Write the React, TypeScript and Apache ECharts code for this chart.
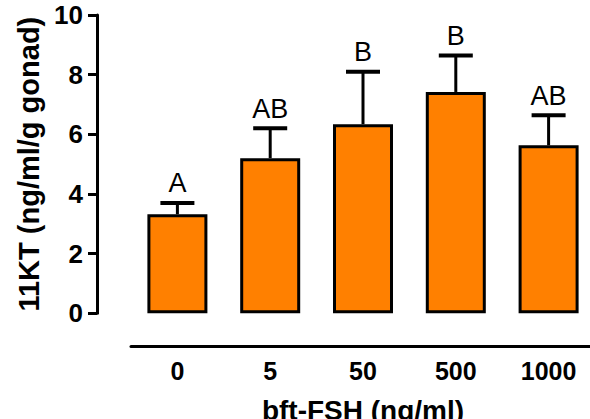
import React, { useEffect, useRef } from "react";
import * as echarts from "echarts";

const categories = ["0", "5", "50", "500", "1000"];
const means = [3.32, 5.2, 6.34, 7.42, 5.63];
const errors = [0.38, 1.0, 1.76, 1.22, 1.01];
const letters = ["A", "AB", "B", "B", "AB"];
const yTicks = { min: 0, max: 10, interval: 2 };

const FONT = "'Liberation Sans', Arial, sans-serif";

export default function App() {
  const ref = useRef<HTMLDivElement>(null);
  useEffect(() => {
    if (!ref.current) return;
    const chart = echarts.init(ref.current, undefined, { renderer: "svg" });
    const errData = categories.map((_, i) => [i, means[i], errors[i]]);
    chart.setOption({
      animation: false,
      backgroundColor: "#fff",
      grid: { left: 131, right: 5, top: 15, bottom: 105.7, outerBoundsMode: "none", containLabel: false },
      xAxis: {
        type: "category",
        data: categories,
        offset: 32.7,
        name: "bft-FSH (ng/ml)",
        nameLocation: "middle",
        nameGap: 50,
        nameTextStyle: { fontFamily: FONT, fontWeight: "bold", fontSize: 28, color: "#000" },
        axisLine: { onZero: false, lineStyle: { color: "#000", width: 3 } },
        axisTick: { alignWithLabel: true, length: 8, lineStyle: { color: "#000", width: 3 } },
        axisLabel: { fontFamily: FONT, fontWeight: "bold", fontSize: 25, color: "#000", margin: 12 },
      },
      yAxis: {
        type: "value",
        min: yTicks.min,
        max: yTicks.max,
        interval: yTicks.interval,
        offset: 34,
        name: "11KT (ng/ml/g gonad)",
        nameLocation: "middle",
        nameGap: 52,
        nameTextStyle: { fontFamily: FONT, fontWeight: "bold", fontSize: 29, color: "#000" },
        axisLine: { show: true, lineStyle: { color: "#000", width: 3 } },
        axisTick: { show: true, length: 9, lineStyle: { color: "#000", width: 3 } },
        axisLabel: { fontFamily: FONT, fontWeight: "bold", fontSize: 26, color: "#000", margin: 14 },
        splitLine: { show: false },
      },
      series: [
        {
          type: "bar",
          data: means,
          barWidth: 60,
          itemStyle: { color: "#FF8000", borderColor: "#000", borderWidth: 3 },
          z: 2,
        },
        {
          type: "custom",
          data: errData,
          z: 3,
          renderItem: (params: any, api: any) => {
            const x = api.value(0);
            const y = api.value(1);
            const e = api.value(2);
            const top = api.coord([x, y]);
            const et = api.coord([x, y + e]);
            const half = 17;
            return {
              type: "group",
              children: [
                {
                  type: "line",
                  shape: { x1: top[0], y1: top[1], x2: et[0], y2: et[1] },
                  style: { stroke: "#000", lineWidth: 3 },
                },
                {
                  type: "line",
                  shape: { x1: et[0] - half, y1: et[1], x2: et[0] + half, y2: et[1] },
                  style: { stroke: "#000", lineWidth: 4 },
                },
                {
                  type: "text",
                  x: et[0],
                  y: et[1] - 6,
                  style: {
                    text: letters[params.dataIndex],
                    fill: "#000",
                    fontSize: 27,
                    fontFamily: FONT,
                    align: "center",
                    verticalAlign: "bottom",
                  },
                },
              ],
            };
          },
        },
      ],
    });
    return () => chart.dispose();
  }, []);
  return (
    <div style={{ position: "absolute", left: 0, top: 0, width: 590, height: 419, overflow: "hidden", background: "#fff" }}>
      <div ref={ref} style={{ width: 600, height: 419 }} />
    </div>
  );
}
